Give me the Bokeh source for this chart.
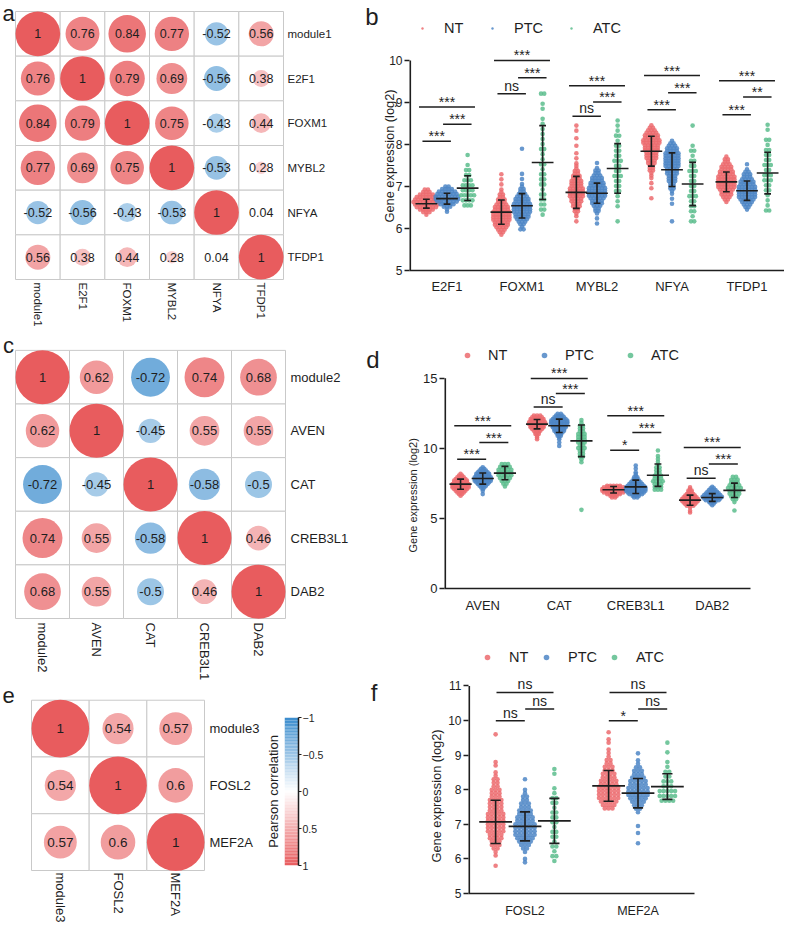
import math
from bokeh.plotting import figure
from bokeh.models import (Range1d, FixedTicker, LinearAxis, Legend, LegendItem,
                          ColumnDataSource, Title)
from bokeh.layouts import row, column
from bokeh.embed import file_html
from bokeh.resources import INLINE
from bokeh.core.properties import value

FONT = "Liberation Sans"
INK = "#1e1e1e"
GRID = "#C9C9C9"
GROUPS = ["NT", "PTC", "ATC"]
GROUP_COLORS = {"NT": "#EC6B6F", "PTC": "#4E86C6", "ATC": "#5CBD8D"}

# ---------------- correlation matrices ----------------
A_NAMES = ["module1", "E2F1", "FOXM1", "MYBL2", "NFYA", "TFDP1"]
A_CORR = [
    [1, 0.76, 0.84, 0.77, -0.52, 0.56],
    [0.76, 1, 0.79, 0.69, -0.56, 0.38],
    [0.84, 0.79, 1, 0.75, -0.43, 0.44],
    [0.77, 0.69, 0.75, 1, -0.53, 0.28],
    [-0.52, -0.56, -0.43, -0.53, 1, 0.04],
    [0.56, 0.38, 0.44, 0.28, 0.04, 1],
]
C_NAMES = ["module2", "AVEN", "CAT", "CREB3L1", "DAB2"]
C_CORR = [
    [1, 0.62, -0.72, 0.74, 0.68],
    [0.62, 1, -0.45, 0.55, 0.55],
    [-0.72, -0.45, 1, -0.58, -0.5],
    [0.74, 0.55, -0.58, 1, 0.46],
    [0.68, 0.55, -0.5, 0.46, 1],
]
E_NAMES = ["module3", "FOSL2", "MEF2A"]
E_CORR = [
    [1, 0.54, 0.57],
    [0.54, 1, 0.6],
    [0.57, 0.6, 1],
]
CB_TICKS = [-1, -0.5, 0, 0.5, 1]

# ---------------- panel b ----------------
B_GENES = ["E2F1", "FOXM1", "MYBL2", "NFYA", "TFDP1"]
B_MEAN = {"NT": [6.59, 6.39, 6.86, 7.84, 7.11],
          "PTC": [6.71, 6.54, 6.84, 7.40, 6.90],
          "ATC": [6.96, 7.57, 7.43, 7.06, 7.32]}
B_SD = {"NT": [0.105, 0.29, 0.38, 0.355, 0.235],
        "PTC": [0.13, 0.29, 0.24, 0.40, 0.23],
        "ATC": [0.295, 0.88, 0.59, 0.515, 0.495]}
B_STEP = {"NT": 0.06, "PTC": 0.06, "ATC": 0.12}
B_LO = {"NT": [6.33, 5.85, 6.17, 6.72, 6.63],
        "PTC": [6.40, 5.98, 6.12, 6.17, 6.45],
        "ATC": [6.55, 6.33, 6.17, 6.17, 6.43]}
B_ROWS = {"NT": ["13578987532",
                 "1234556666554332211010101",
                 "101122334455554443322111010100100100101",
                 "100010101112223344455566554321",
                 "1234456666655443221"],
          "PTC": ["11357887642",
                  "212345566665543221101010000000001",
                  "1010122344566665544322101",
                  "100000010101122233344455555544321",
                  "1234566666554332101"],
          "ATC": ["34544322101",
                  "1222212221211211111101102",
                  "100111222322322212111",
                  "21222322223221210001",
                  "211122332322212011"]}
B_SIG_Y = [[8.08, 8.89, 8.48], [9.21, 10.0, 9.59], [8.67, 9.40, 9.01],
           [8.83, 9.64, 9.23], [8.71, 9.52, 9.13]]
B_SIG = [["***", "***", "***"], ["ns", "***", "***"], ["ns", "***", "***"],
         ["***", "***", "***"], ["***", "***", "**"]]
B_YTICKS = [5, 6, 7, 8, 9, 10]

# ---------------- panel d ----------------
D_GENES = ["AVEN", "CAT", "CREB3L1", "DAB2"]
D_MEAN = {"NT": [7.44, 11.72, 7.04, 6.30],
          "PTC": [7.84, 11.60, 7.25, 6.49],
          "ATC": [8.23, 10.53, 8.08, 7.00]}
D_SD = {"NT": [0.36, 0.335, 0.235, 0.36],
        "PTC": [0.395, 0.475, 0.475, 0.275],
        "ATC": [0.475, 1.13, 0.80, 0.515]}
D_STEP = {"NT": 0.12, "PTC": 0.12, "ATC": 0.2}
D_LO = {"NT": [6.61, 10.65, 6.49, 5.42],
        "PTC": [6.73, 10.17, 6.49, 5.94],
        "ATC": [7.27, 5.61, 7.04, 5.56]}
D_ROWS = {"NT": ["12345666554321",
                 "111223455665543",
                 "23578875",
                 "1101345665432211"],
          "PTC": ["10112345666554321",
                  "10101122344556665432",
                  "23567776543221110101",
                  "123567654321"],
          "ATC": ["123455543",
                  "100000000000000001122232333322211",
                  "333433222111101",
                  "1001234454332"]}
D_SIG_Y = [[9.22, 11.6, 10.41], [12.95, 14.98, 13.9], [9.86, 12.31, 11.12],
           [7.87, 10.06, 8.87]]
D_SIG = [["***", "***", "***"], ["ns", "***", "***"], ["*", "***", "***"],
         ["ns", "***", "***"]]
D_YTICKS = [0, 5, 10, 15]

# ---------------- panel f ----------------
F_GENES = ["FOSL2", "MEF2A"]
F_MEAN = {"NT": [7.07, 8.11], "PTC": [6.94, 7.90], "ATC": [7.10, 8.09]}
F_SD = {"NT": [0.625, 0.445], "PTC": [0.42, 0.425], "ATC": [0.65, 0.37]}
F_STEP = {"NT": 0.1, "PTC": 0.1, "ATC": 0.14}
F_LO = {"NT": [5.80, 7.46], "PTC": [5.90, 6.45], "ATC": [5.94, 7.68]}
F_ROWS = {"NT": ["100112334455555544443332221101100000001",
                 "34566665544332211101101"],
          "PTC": ["1101234566665544332211001",
                  "100101000123456665543321101"],
          "ATC": ["12121221222122110011",
                  "4553322110101"]}
F_SIG_Y = [[9.99, 10.81, 10.33], [9.99, 10.81, 10.33]]
F_SIG = [["ns", "ns", "ns"], ["*", "ns", "ns"]]
F_YTICKS = [5, 6, 7, 8, 9, 10, 11]

YLAB = "Gene expression (log2)"


def corr_color(r):
    c0 = (232, 92, 94) if r >= 0 else (58, 140, 205)
    t = min(abs(r), 1.0)
    rgb = tuple(int(round(255 + (c - 255) * t)) for c in c0)
    return "#%02x%02x%02x" % rgb


def corr_fig(names, corr, W, H, mx0, my0, cell, br, bb, name_fs, num_fs,
             xstand, ystand, let, let_rel):
    """Matrix whose top-left corner sits at (mx0, my0) px inside the figure."""
    n = len(names)
    fw, fh = W - br, H - bb
    xs0 = -mx0 / cell
    ye = n + my0 / cell
    p = figure(width=W, height=H, x_range=Range1d(xs0, xs0 + fw / cell),
               y_range=Range1d(ye - fh / cell, ye),
               y_axis_location="right", toolbar_location=None, output_backend="svg",
               min_border_left=0, min_border_right=br, min_border_top=0,
               min_border_bottom=bb, frame_align=False)
    p.xgrid.visible = False
    p.ygrid.visible = False
    p.outline_line_color = None
    cx, cy, rad, col, txt = [], [], [], [], []
    for i in range(n):
        for j in range(n):
            r = corr[i][j]
            cx.append(j + 0.5)
            cy.append(n - i - 0.5)
            rad.append(abs(r) * 0.5)
            col.append(corr_color(r))
            txt.append(f"{r:g}")
    src = ColumnDataSource(dict(x=cx, y=cy, r=rad, c=col, t=txt))
    p.rect(x="x", y="y", width=1, height=1, source=src, fill_color="white",
           line_color=GRID, line_width=1)
    p.circle(x="x", y="y", radius="r", source=src, fill_color="c", line_color=None)
    p.text(x="x", y="y", text="t", source=src, text_align="center",
           text_baseline="middle", text_font=value(FONT), text_font_size=num_fs,
           text_color=INK)
    # panel letter
    lx = (let_rel[0] - mx0) / cell
    ly = n + (my0 - let_rel[1]) / cell
    p.text(x=[lx], y=[ly], text=[let], text_align="center", text_baseline="middle",
           text_font=value(FONT), text_font_size="22px", text_color=INK)
    centers = [k + 0.5 for k in range(n)]
    p.xaxis.ticker = FixedTicker(ticks=centers)
    p.xaxis.major_label_overrides = {centers[k]: names[k] for k in range(n)}
    p.xaxis.major_label_orientation = "vertical"
    p.xaxis.major_label_standoff = xstand
    p.yaxis.ticker = FixedTicker(ticks=centers)
    p.yaxis.major_label_overrides = {n - k - 0.5: names[k] for k in range(n)}
    p.yaxis.major_label_standoff = ystand
    for ax in (p.xaxis, p.yaxis):
        ax.axis_line_color = None
        ax.major_tick_line_color = None
        ax.minor_tick_line_color = None
        ax.major_tick_out = 0
        ax.major_tick_in = 0
        ax.major_label_text_font = FONT
        ax.major_label_text_font_size = name_fs
        ax.major_label_text_color = INK
    return p


def dot_fig(genes, mean, sd, lo, rows, step, sig_y, sig, yticks, *, width, height,
            borders, yr, unit_px, off, dx, leg, leg_fs, ytick_fs, ylab_fs, ylab_off,
            ylab_stand, let, let_y, let_stand, xfs, xstand):
    bl, br, bt, bb = borders
    n = len(genes)
    p = figure(width=width, height=height, x_range=Range1d(0, n), y_range=Range1d(*yr),
               toolbar_location=None, output_backend="svg",
               min_border_left=bl, min_border_right=br, min_border_top=bt,
               min_border_bottom=bb, frame_align=False)
    p.xgrid.visible = False
    p.ygrid.visible = False
    p.outline_line_color = None

    def gx(k, gi):
        return k + 0.5 + (gi - 1) * off

    rends = {}
    for gi, g in enumerate(GROUPS):
        xs, ys = [], []
        for k in range(n):
            xc = gx(k, gi)
            for i, ch in enumerate(rows[g][k]):
                m = int(ch)
                yv = lo[g][k] + i * step[g]
                for j in range(m):
                    xs.append(xc + (j - (m - 1) / 2) * dx)
                    ys.append(yv)
        rends[g] = p.scatter(x=xs, y=ys, size=4.6, fill_color=GROUP_COLORS[g],
                             fill_alpha=0.85, line_color=None)

    x0, y0, x1, y1 = [], [], [], []
    for gi, g in enumerate(GROUPS):
        for k in range(n):
            xc = gx(k, gi)
            m, s = mean[g][k], sd[g][k]
            for a, b, c, d in ((xc - 0.145, m, xc + 0.145, m),
                               (xc, m - s, xc, m + s),
                               (xc - 0.045, m - s, xc + 0.045, m - s),
                               (xc - 0.045, m + s, xc + 0.045, m + s)):
                x0.append(a); y0.append(b); x1.append(c); y1.append(d)
    p.segment(x0=x0, y0=y0, x1=x1, y1=y1, line_color=INK, line_width=1.6)

    pairs = [(0, 1), (0, 2), (1, 2)]
    bx0, bx1, by, tx, ty, tt, to = [], [], [], [], [], [], []
    for k in range(n):
        for pi, (a, b) in enumerate(pairs):
            xa, xb = gx(k, a), gx(k, b)
            mid = (xa + xb) / 2
            half = (29 if b - a == 1 else 57) / 2 / unit_px
            yv = sig_y[k][pi]
            bx0.append(mid - half); bx1.append(mid + half); by.append(yv)
            tx.append(mid); ty.append(yv); tt.append(sig[k][pi])
            to.append(3 if "*" in sig[k][pi] else 0)
    p.segment(x0=bx0, y0=by, x1=bx1, y1=by, line_color=INK, line_width=1.5)
    tsrc = ColumnDataSource(dict(x=tx, y=ty, t=tt, o=to))
    p.text(x="x", y="y", text="t", y_offset="o", source=tsrc, text_align="center",
           text_baseline="bottom", text_font=value(FONT), text_font_size="14px",
           text_color=INK)

    # y axis line spanning only the tick range (half clipped at the frame edge)
    p.segment(x0=[0], y0=[yticks[0]], x1=[0], y1=[yticks[-1]], line_color=INK,
              line_width=3.2)

    p.yaxis.ticker = FixedTicker(ticks=yticks)
    p.yaxis.axis_line_color = None
    p.yaxis.major_tick_out = 5
    p.yaxis.major_tick_in = 0
    p.yaxis.major_tick_line_width = 1.5
    p.yaxis.major_tick_line_color = INK
    p.yaxis.minor_tick_line_color = None
    p.yaxis.major_label_standoff = 2
    p.yaxis.major_label_text_font = FONT
    p.yaxis.major_label_text_font_size = ytick_fs
    p.yaxis.major_label_text_color = INK

    centers = [k + 0.5 for k in range(n)]
    p.xaxis.ticker = FixedTicker(ticks=centers)
    p.xaxis.major_label_overrides = {centers[k]: genes[k] for k in range(n)}
    p.xaxis.major_tick_line_color = None
    p.xaxis.minor_tick_line_color = None
    p.xaxis.major_tick_out = 0
    p.xaxis.major_tick_in = 0
    p.xaxis.axis_line_color = INK
    p.xaxis.axis_line_width = 1.6
    p.xaxis.major_label_standoff = xstand
    p.xaxis.major_label_text_font = FONT
    p.xaxis.major_label_text_font_size = xfs
    p.xaxis.major_label_text_color = INK

    # y-axis title (left side panel, anchored from the bottom of the frame)
    p.add_layout(Title(text=YLAB, align="left", offset=ylab_off, standoff=ylab_stand,
                       vertical_align="bottom", text_font=FONT,
                       text_font_size=ylab_fs, text_font_style="normal",
                       text_color=INK), "left")
    # panel letter, as the single label of an outer left axis
    lax = LinearAxis(ticker=FixedTicker(ticks=[let_y]), major_label_overrides={let_y: let},
                     axis_line_color=None, major_tick_line_color=None,
                     minor_tick_line_color=None, major_tick_out=0, major_tick_in=0,
                     major_label_standoff=let_stand, major_label_text_font=FONT,
                     major_label_text_font_size="24px", major_label_text_color=INK)
    p.add_layout(lax, "left")

    legend = Legend(items=[LegendItem(label=g, renderers=[rends[g]]) for g in GROUPS],
                    orientation="horizontal", location="top_left",
                    margin=leg[0], padding=0, spacing=leg[3], glyph_width=leg[1],
                    glyph_height=14, label_height=14, label_standoff=leg[2],
                    label_text_font=FONT, label_text_font_size=leg_fs,
                    label_text_color=INK, background_fill_alpha=0,
                    border_line_color=None)
    p.add_layout(legend)
    return p


# ---------------- build panels ----------------
pa = corr_fig(A_NAMES, A_CORR, 362, 333, 15, 11, 44.67, 78, 53, "11.5px", "12.5px",
              2, 3, "a", (8, 13))
pc = corr_fig(C_NAMES, C_CORR, 362, 350, 15, 17, 54.0, 76, 62, "13px", "13px",
              3, 4, "c", (8, 12.5))
pe = corr_fig(E_NAMES, E_CORR, 262, 242, 31, 17, 57.67, 57, 51, "13px", "13.5px",
              1, 4, "e", (8, 12.5))

# colour bar
cb = figure(width=100, height=242, x_range=Range1d(0, 1), y_range=Range1d(1, -1),
            y_axis_location="right", toolbar_location=None, output_backend="svg",
            min_border_left=20, min_border_right=64, min_border_top=34,
            min_border_bottom=60, frame_align=False)
cb.xgrid.visible = False
cb.ygrid.visible = False
cb.outline_line_color = None
cb.xaxis.visible = False
nseg = 100
seg_lo = [-1 + 2 * k / nseg for k in range(nseg)]
seg_hi = [-1 + 2 * (k + 1) / nseg for k in range(nseg)]
cb.quad(left=0, right=1, bottom=seg_lo, top=seg_hi,
        fill_color=[corr_color((a + b) / 2) for a, b in zip(seg_lo, seg_hi)],
        line_color=None)
cb.yaxis.ticker = FixedTicker(ticks=CB_TICKS)
cb.yaxis.axis_line_color = INK
cb.yaxis.axis_line_width = 1.5
cb.yaxis.major_tick_out = 3
cb.yaxis.major_tick_in = 0
cb.yaxis.major_tick_line_color = INK
cb.yaxis.minor_tick_line_color = None
cb.yaxis.major_label_standoff = 1
cb.yaxis.major_label_text_font = FONT
cb.yaxis.major_label_text_font_size = "10.5px"
cb.yaxis.major_label_text_color = INK
left_ax = LinearAxis(ticker=FixedTicker(ticks=[]), axis_label="Pearson correlation",
                     axis_line_color=None, major_tick_line_color=None,
                     minor_tick_line_color=None, axis_label_standoff=4,
                     axis_label_text_font=FONT, axis_label_text_font_size="13px",
                     axis_label_text_font_style="normal", axis_label_text_color=INK)
cb.add_layout(left_ax, "left")

pb = dot_fig(B_GENES, B_MEAN, B_SD, B_LO, B_ROWS, B_STEP, B_SIG_Y, B_SIG, B_YTICKS,
             width=422, height=327, borders=(40, 0, 10, 57), yr=(5, 11.19),
             unit_px=76.4, off=0.275, dx=0.043, leg=(10, 6, 19, 25), leg_fs="14.5px",
             ytick_fs="12px", ylab_fs="12.8px", ylab_off=48, ylab_stand=-20,
             let="b", let_y=11.05, let_stand=8, xfs="13px", xstand=8)
pd = dot_fig(D_GENES, D_MEAN, D_SD, D_LO, D_ROWS, D_STEP, D_SIG_Y, D_SIG, D_YTICKS,
             width=422, height=305, borders=(82, 34, 16, 44), yr=(0, 17.47),
             unit_px=76.5, off=0.29, dx=0.042, leg=(4, 38, 2, 17), leg_fs="14.5px",
             ytick_fs="13px", ylab_fs="11px", ylab_off=36, ylab_stand=3,
             let="d", let_y=16.36, let_stand=24, xfs="13px", xstand=9)
pf = dot_fig(F_GENES, F_MEAN, F_SD, F_LO, F_ROWS, F_STEP, F_SIG_Y, F_SIG, F_YTICKS,
             width=422, height=293, borders=(106, 90, 15, 32), yr=(5, 12.11),
             unit_px=113.0, off=0.26, dx=0.034, leg=(2, 34, 5, 0), leg_fs="14.5px",
             ytick_fs="12px", ylab_fs="12.8px", ylab_off=31, ylab_stand=3,
             let="f", let_y=10.82, let_stand=48, xfs="12.5px", xstand=10)

layout = row(column(pa, pc, row(pe, cb)), column(pb, pd, pf))
open("out.html", "w").write(file_html(layout, INLINE))
